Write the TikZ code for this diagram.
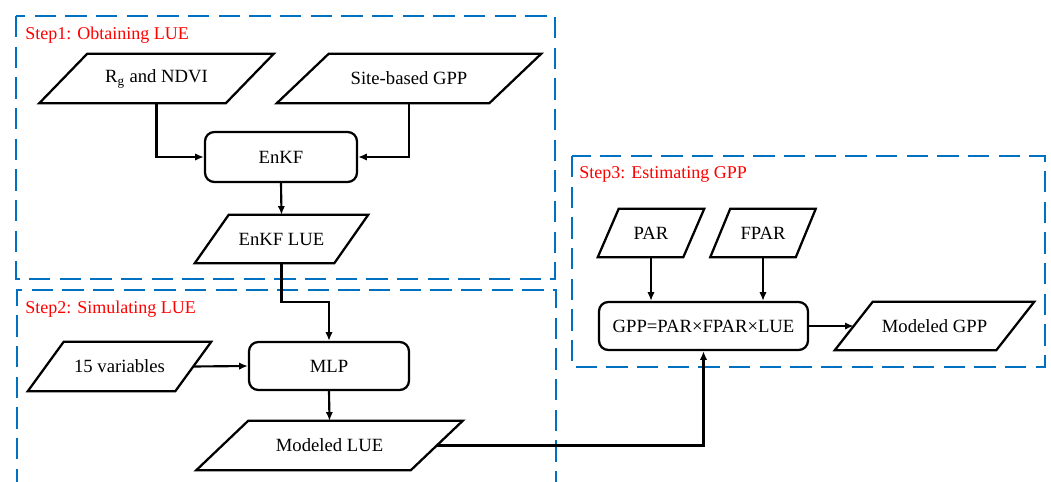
\documentclass[tikz,border=0pt]{standalone}
\usepackage{fontspec}
\setmainfont{Liberation Serif}
\usetikzlibrary{calc,arrows.meta}
\definecolor{stepblue}{RGB}{0,112,192}
\definecolor{stepred}{RGB}{255,0,0}
\tikzset{
  ptext/.style={rectangle, inner sep=0pt, font=\fontsize{14}{16}\selectfont},
  pline/.style={draw=black, line width=1.7pt, line join=miter},
  rbox/.style={draw=black, line width=1.7pt, rounded corners=7pt, inner sep=0pt, font=\fontsize{14}{16}\selectfont},
  arr/.style={draw=black, line width=1.6pt, -{Latex[length=6.5pt,width=5.5pt]}},
  stepframe/.style={draw=stepblue, line width=1.8pt, dash pattern=on 16pt off 7pt},
  steplabel/.style={anchor=west, inner sep=0pt, text=stepred, font=\fontsize{13.5}{15}\selectfont}
}
\newcommand\mypara[7]{%
  \node[ptext, minimum width=#4*0.75pt, minimum height=#5*0.75pt] (#1) at (#2,#3) {#7};
  \draw[pline] ($(#1.south west)+(-#6/2,0)$) -- ($(#1.south east)+(-#6/2,0)$) -- ($(#1.north east)+(#6/2,0)$) -- ($(#1.north west)+(#6/2,0)$) -- cycle;}
\begin{document}
\begin{tikzpicture}[x=0.75pt,y=-0.75pt]
\useasboundingbox (0,0) rectangle (1051,482);
\begin{scope}
\clip (0,0) rectangle (1051,482);
% frames
\draw[stepframe] (16,16) rectangle (555,279);
\draw[stepframe] (17,490) -- (17,290) -- (556,290) -- (556,490);
\draw[stepframe] (572,156) rectangle (1045,367);
\end{scope}
\node[steplabel] (l1) at (25,35) {Step1: Obtaining LUE};
\node[steplabel] (l2) at (25,309) {Step2: Simulating LUE};
\node[steplabel] (l3) at (579,174) {Step3: Estimating GPP};
% step 1
\mypara{rg}{156.5}{78.5}{186}{49}{48}{R\textsubscript{g} and NDVI}
\mypara{site}{409}{78.5}{212}{49}{52}{Site-based GPP}
\node[rbox, minimum width=152*0.75pt, minimum height=50*0.75pt] (enkf) at (281,157) {EnKF};
\mypara{enkflue}{281.5}{239}{139}{48}{34}{EnKF LUE}
% step 2
\node[rbox, minimum width=160*0.75pt, minimum height=48*0.75pt] (mlp) at (329,366) {MLP};
\mypara{vars}{119.5}{366.5}{147}{49}{36}{15 variables}
\mypara{mlue}{329.5}{445.5}{214}{49}{52}{Modeled LUE}
% step 3
\mypara{par}{651}{233}{85}{48}{21}{PAR}
\mypara{fpar}{763}{233}{85}{48}{20}{FPAR}
\node[rbox, minimum width=209*0.75pt, minimum height=48*0.75pt] (gpp) at (703.5,326) {GPP=PAR\texttimes FPAR\texttimes LUE};
\mypara{mgpp}{934.5}{326}{161}{48}{38}{Modeled GPP}
% connectors
\draw[arr] (rg.south) |- (enkf.west);
\draw[arr] (site.south) |- (enkf.east);
\draw[arr] (enkf.south) -- (enkflue.north);
\draw[arr] (enkflue.south) -- ++(0,39) -| (mlp.north);
\draw[arr] (vars.east) -- (mlp.west);
\draw[arr] (mlp.south) -- (mlue.north);
\draw[arr] (mlue.east) -| (gpp.south);
\draw[arr] (par.south) -- (par.south |- gpp.north);
\draw[arr] (fpar.south) -- (fpar.south |- gpp.north);
\draw[arr] (gpp.east) -- (mgpp.west);
\end{tikzpicture}
\end{document}
